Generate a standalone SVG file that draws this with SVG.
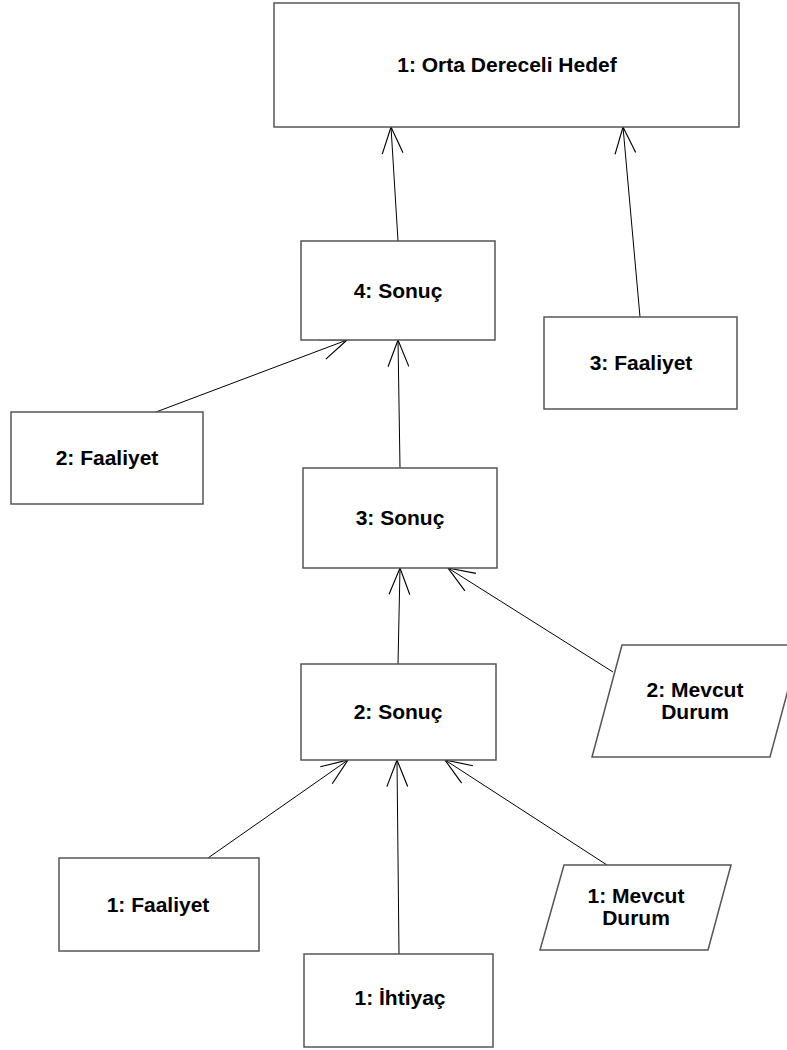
<svg xmlns="http://www.w3.org/2000/svg" width="787" height="1050" viewBox="0 0 787 1050">
  <style>
    .node { fill: #ffffff; stroke: #555555; stroke-width: 1.5; }
    .label { font-family: "Liberation Sans", Arial, sans-serif; font-size: 21px; font-weight: bold; fill: #000000; text-anchor: middle; }
    .edge { fill: none; stroke: #000000; stroke-width: 1; marker-end: url(#openArrow); }
  </style>
  <defs>
    <marker id="openArrow" markerUnits="userSpaceOnUse" markerWidth="30" markerHeight="30" viewBox="-24 -12 26 24" refX="0" refY="0" orient="auto">
      <path d="M-23,-9 L0,0 L-23,9" fill="none" stroke="#000000" stroke-width="1"/>
    </marker>
  </defs>

  <rect width="787" height="1050" fill="#ffffff"/>

  <g id="connectors">
    <line class="edge" x1="398" y1="241" x2="391" y2="127"/>
    <line class="edge" x1="640" y1="317" x2="623" y2="127"/>
    <line class="edge" x1="156" y1="412" x2="347" y2="340"/>
    <line class="edge" x1="400" y1="468" x2="398" y2="340"/>
    <line class="edge" x1="398" y1="664" x2="400" y2="568"/>
    <line class="edge" x1="613" y1="672" x2="448" y2="568"/>
    <line class="edge" x1="208" y1="858" x2="348" y2="760"/>
    <line class="edge" x1="399" y1="954" x2="397" y2="760"/>
    <line class="edge" x1="607" y1="865" x2="445" y2="760"/>
  </g>

  <g id="hedef">
    <rect class="node" x="274" y="3" width="465" height="124"/>
    <text class="label" x="507" y="72">1: Orta Dereceli Hedef</text>
  </g>

  <g id="sonuc4">
    <rect class="node" x="301" y="241" width="194" height="99"/>
    <text class="label" x="398" y="298">4: Sonuç</text>
  </g>

  <g id="faaliyet3">
    <rect class="node" x="544" y="317" width="193" height="92"/>
    <text class="label" x="641" y="370">3: Faaliyet</text>
  </g>

  <g id="faaliyet2">
    <rect class="node" x="11" y="412" width="192" height="92"/>
    <text class="label" x="107" y="465">2: Faaliyet</text>
  </g>

  <g id="sonuc3">
    <rect class="node" x="303" y="468" width="194" height="100"/>
    <text class="label" x="400" y="525">3: Sonuç</text>
  </g>

  <g id="sonuc2">
    <rect class="node" x="301" y="664" width="195" height="96"/>
    <text class="label" x="398" y="719">2: Sonuç</text>
  </g>

  <g id="mevcut2">
    <polygon class="node" points="622,645 800,645 770,757 592,757"/>
    <text class="label" x="695" y="697">2: Mevcut</text>
    <text class="label" x="695" y="719">Durum</text>
  </g>

  <g id="faaliyet1">
    <rect class="node" x="59" y="858" width="200" height="93"/>
    <text class="label" x="158" y="912">1: Faaliyet</text>
  </g>

  <g id="mevcut1">
    <polygon class="node" points="564,865 731,865 708,950 540,950"/>
    <text class="label" x="636" y="903">1: Mevcut</text>
    <text class="label" x="636" y="925">Durum</text>
  </g>

  <g id="ihtiyac1">
    <rect class="node" x="304" y="954" width="189" height="93"/>
    <text class="label" x="400" y="1005">1: İhtiyaç</text>
  </g>
</svg>
